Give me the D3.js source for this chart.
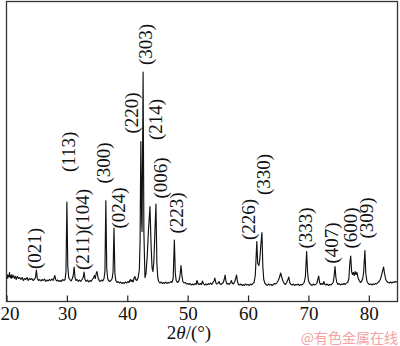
<!DOCTYPE html>
<html>
<head>
<meta charset="utf-8">
<script src="https://cdn.jsdelivr.net/npm/d3@7"></script>
<style>
  body { margin: 0; background: #fff; }
  svg { display: block; }
  .tick text { font-family: "Liberation Serif", "Times New Roman", serif; font-size: 19px; fill: #111; }
</style>
</head>
<body>
<div id="chart"></div>
<script>
// x-ray pattern, 2theta (deg) / intensity (a.u.)
const pattern = [
  [20.0,24],[20.1,27],[20.2,23],[20.3,26],[20.4,25],[20.5,29],[20.6,24],[20.7,26],[20.8,23],[20.9,27],
  [21.0,24],[21.2,26],[21.3,23],[21.5,25],[21.6,22],[21.8,25],[22.0,23],[22.2,24],[22.4,22],[22.6,24],
  [22.8,21],[23.0,23],[23.2,22],[23.4,24],[23.6,21],[23.8,23],[24.0,22],[24.2,23],[24.4,21],[24.6,22],
  [24.8,24],[24.95,31.5],[25.1,23],[25.3,21],[25.5,22],[25.7,20.5],[25.9,22],[26.1,21],[26.3,22.5],[26.5,20],
  [26.7,21.5],[26.9,20.5],[27.1,22],[27.3,21],[27.5,22.5],[27.7,21],[27.9,24],[28.0,26],[28.15,22],[28.3,20.5],
  [28.5,21.5],[28.7,20],[28.9,21],[29.1,20],[29.3,22],[29.5,21],[29.7,22],[29.85,30],[30.0,99.5],[30.15,35],
  [30.3,24],[30.5,22],[30.7,20.5],[30.9,23],[31.05,26],[31.2,34.5],[31.35,24],[31.5,21],[31.7,22],[31.9,20],
  [32.1,21.5],[32.3,20],[32.5,22],[32.7,24],[32.85,29.5],[33.0,22],[33.2,20],[33.4,21.5],[33.6,19.5],[33.8,21],
  [34.0,20],[34.2,22],[34.4,23.5],[34.55,26],[34.7,23],[34.85,28],[35.0,30],[35.15,24],[35.35,21],[35.55,20],
  [35.75,21.5],[35.95,20.5],[36.15,23],[36.3,30],[36.45,100.8],[36.6,33],[36.75,23],[36.9,21],[37.1,20],[37.3,21],
  [37.5,23],[37.65,30],[37.8,73.5],[37.95,28],[38.1,21],[38.3,19],[38.5,20],[38.7,18.5],[38.9,19.5],[39.1,18],
  [39.3,19],[39.5,18],[39.7,19.5],[39.9,18.5],[40.1,20],[40.3,19],[40.5,22],[40.65,20],[40.8,21.5],[40.95,19.5],
  [41.1,23],[41.25,25],[41.4,22],[41.6,21],[41.8,24],[42.0,32],[42.12,60],[42.25,160],[42.38,80],[42.45,70],
  [42.62,229.5],[42.75,70],[42.93,24],[43.1,28],[43.3,45],[43.5,70],[43.76,95],[43.95,55],[44.1,34],[44.25,30],
  [44.4,40],[44.55,65],[44.75,97.5],[44.9,38],[45.05,24],[45.2,20],[45.4,18.5],[45.6,19.5],[45.8,18],[46.0,19],
  [46.2,18],[46.4,19.5],[46.6,18],[46.8,19],[47.0,18.5],[47.2,20],[47.4,19],[47.6,23],[47.8,61.5],[47.95,28],
  [48.1,21],[48.3,19],[48.5,20],[48.7,24],[48.9,36],[49.05,26],[49.2,20],[49.4,18.5],[49.6,19],[49.8,17.5],
  [50.0,18],[50.2,17],[50.4,18],[50.6,16.5],[50.8,17.5],[51.0,16.5],[51.2,18],[51.4,17],[51.55,21],[51.7,18],
  [51.9,17],[52.1,18],[52.3,17],[52.45,20.5],[52.6,18],[52.8,16.5],[53.0,17.5],[53.2,16.5],[53.4,18],[53.6,17],
  [53.8,18.5],[54.0,17],[54.2,19],[54.4,21],[54.5,23.5],[54.65,19],[54.8,17.5],[55.0,18],[55.2,20],[55.35,17.5],
  [55.5,17],[55.7,18],[55.9,19],[56.05,22],[56.2,26.5],[56.35,20],[56.5,17.5],[56.7,18],[56.9,17],[57.1,19],
  [57.25,21],[57.4,18],[57.6,17.5],[57.8,20],[58.0,24],[58.1,26.5],[58.25,20],[58.4,17],[58.6,16.5],[58.8,17.5],
  [59.0,16],[59.2,17],[59.4,16],[59.6,17.5],[59.8,16.5],[60.0,17],[60.2,16],[60.4,17.5],[60.6,16.5],[60.8,18],
  [61.0,19],[61.2,26],[61.45,60],[61.6,38],[61.8,36],[61.95,42],[62.1,55],[62.3,69],[62.45,35],[62.6,22],
  [62.8,18],[63.0,17],[63.2,16],[63.4,17.5],[63.6,16.5],[63.8,17],[64.0,16],[64.2,17],[64.4,18],[64.6,17.5],
  [64.8,19],[65.0,21],[65.2,24],[65.4,28.5],[65.6,24],[65.8,20],[66.0,18],[66.2,17],[66.4,19],[66.6,22],
  [66.75,24.5],[66.9,19],[67.1,17],[67.3,16.5],[67.5,17.5],[67.7,16],[67.9,17],[68.1,16.5],[68.3,17.5],[68.5,16],
  [68.7,17],[68.9,16.5],[69.1,17.5],[69.3,19],[69.5,25],[69.7,50],[69.85,30],[70.0,21],[70.2,18],[70.4,17],
  [70.6,16],[70.8,17.5],[71.0,16.5],[71.2,17],[71.4,18.5],[71.55,22],[71.7,25.5],[71.85,19],[72.0,17],[72.2,18],
  [72.4,17],[72.55,20],[72.7,17.5],[72.9,16.5],[73.1,17.5],[73.3,16],[73.5,17],[73.7,16.5],[73.9,17.5],[74.1,19],
  [74.25,25],[74.4,35],[74.55,24],[74.7,19],[74.9,17],[75.1,18],[75.3,16.5],[75.5,17.5],[75.7,17],[75.9,18],
  [76.1,17],[76.3,18.5],[76.5,19],[76.7,23],[76.85,38],[77.0,45.5],[77.15,30],[77.3,27],[77.45,29],[77.6,26],
  [77.75,30],[77.9,27],[78.05,29],[78.2,24],[78.4,21],[78.6,19],[78.8,20],[79.0,23],[79.15,30],[79.35,51],
  [79.5,28],[79.7,20],[79.9,18],[80.1,17],[80.3,17.5],[80.5,16.5],[80.7,17.5],[80.9,17],[81.1,18],[81.3,17.5],
  [81.5,19],[81.7,20],[81.9,22],[82.1,26],[82.3,31],[82.45,34.5],[82.6,28],[82.8,22],[83.0,20],[83.2,19],
  [83.4,18.5],[83.6,19.5],[83.8,18.5],[84.0,19.5],[84.2,19],[84.4,20],[84.6,19.5],[84.75,20]
];

// peak labels (hkl), where they sit (2theta) and the level their lower end starts at
const hklLabels = ['(021)','(113)','(104)','(211)','(300)','(024)','(220)','(303)','(214)',
                   '(006)','(223)','(226)','(330)','(333)','(407)','(600)','(309)'];
const labelTheta = [24.55, 30.23, 32.5, 32.6, 36.03, 38.5, 40.6, 42.93, 44.59,
                    45.41, 48.18, 60.03, 62.52, 69.42, 73.84, 76.87, 79.64];
const labelLevel = [32.5, 129.5, 71.5, 31.5, 118, 73, 168, 236.5, 161.5,
                    103, 68, 61.5, 106.5, 53, 38, 53, 63];

const xTicks = [20, 30, 40, 50, 60, 70, 80];
const xTitle = '/(°)';
const watermark = '@有色金属在线';

const width = 400, height = 346;
const margin = {top: 1.5, right: 2.5, bottom: 44.5, left: 6.5};
const serif = '"Liberation Serif", "Times New Roman", serif';

const svg = d3.select('#chart').append('svg')
    .attr('width', width)
    .attr('height', height);

const x = d3.scaleLinear()
    .domain([20, 84.75])
    .range([margin.left, width - margin.right]);

const y = d3.scaleLinear()
    .domain([0, 300])
    .range([height - margin.bottom, margin.top]);

// the pattern itself
const line = d3.line()
    .x(d => x(d[0]))
    .y(d => y(d[1]));

svg.append('path')
    .datum(pattern)
    .attr('fill', 'none')
    .attr('stroke', '#111')
    .attr('stroke-width', 1.15)
    .attr('stroke-linejoin', 'round')
    .attr('d', line);

// frame
svg.append('rect')
    .attr('x', margin.left)
    .attr('y', margin.top)
    .attr('width', width - margin.left - margin.right)
    .attr('height', height - margin.top - margin.bottom)
    .attr('fill', 'none')
    .attr('stroke', '#333')
    .attr('stroke-width', 1.3);

// bottom axis, ticks pointing inwards
const xAxis = d3.axisBottom(x)
    .tickValues(xTicks)
    .tickFormat(d3.format('d'))
    .tickSizeInner(-6)
    .tickSizeOuter(0)
    .tickPadding(5);

const gx = svg.append('g')
    .attr('transform', `translate(0,${height - margin.bottom})`)
    .call(xAxis);
gx.select('.domain').remove();
gx.selectAll('.tick line').attr('stroke', '#222').attr('stroke-width', 1.2);
// first label sits against the page edge, nudge it in
gx.selectAll('.tick text').filter(d => d === xTicks[0]).attr('dx', 3);

// axis title 2θ/(°)
const title = svg.append('text')
    .attr('x', 189)
    .attr('y', 339)
    .attr('text-anchor', 'middle')
    .style('font-family', serif)
    .style('font-size', '19px')
    .attr('fill', '#111');
title.append('tspan').text('2');
title.append('tspan').style('font-style', 'italic').text('θ');
title.append('tspan').text(xTitle);

// hkl labels, rotated to read upwards
svg.append('g')
    .selectAll('text')
    .data(hklLabels)
    .join('text')
    .attr('transform', (d, i) => `translate(${x(labelTheta[i])},${y(labelLevel[i])}) rotate(-90)`)
    .attr('dy', '0.35em')
    .attr('text-anchor', 'start')
    .style('font-family', serif)
    .style('font-size', '19px')
    .attr('fill', '#111')
    .text(d => d);

// source watermark
svg.append('text')
    .attr('x', 398)
    .attr('y', 343)
    .attr('text-anchor', 'end')
    .style('font-family', '"Noto Sans CJK SC", sans-serif')
    .style('font-size', '14px')
    .attr('fill', '#f2a3a3')
    .text(watermark);
</script>
</body>
</html>
